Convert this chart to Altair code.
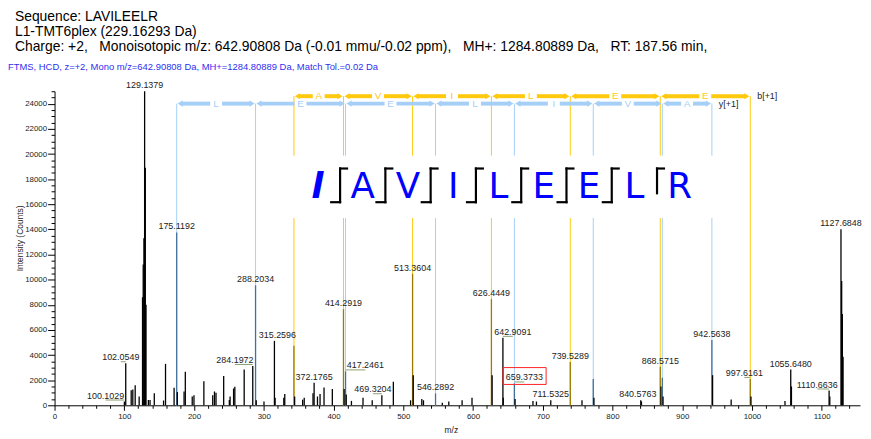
import altair as alt
import pandas as pd

# ---------------- data ----------------
NB3 = "\u00a0\u00a0\u00a0"
HEADER_LINES = [
    "Sequence: LAVILEELR",
    "L1-TMT6plex (229.16293 Da)",
    "Charge: +2," + NB3 + "Monoisotopic m/z: 642.90808 Da (-0.01 mmu/-0.02 ppm)," + NB3
    + "MH+: 1284.80889 Da," + NB3 + "RT: 187.56 min,",
]
SCAN_INFO = "FTMS, HCD, z=+2, Mono m/z=642.90808 Da, MH+=1284.80889 Da, Match Tol.=0.02 Da"

PEAK_MZ = [
    100.1029, 102.0549, 109.9, 112.2, 115.6, 121.3, 126.13, 127.12, 128.13, 129.1379,
    130.14, 131.14, 134.5, 136.9, 143.0, 156.3, 159.1, 171.4, 175.1192, 176.12,
    185.7, 187.5, 197.4, 199.9, 214.1, 226.8, 229.3, 231.5, 242.5, 250.6,
    251.7, 256.7, 258.5, 271.9, 284.1972, 288.2034, 289.2, 300.3, 315.2596, 316.26,
    328.7, 330.1, 343.25, 344.26, 355.7, 358.0, 370.6, 372.1765, 377.0, 380.7,
    386.4, 398.3, 414.2919, 415.3, 417.2461, 418.25, 425.7, 442.3, 455.5, 469.3204,
    485.8, 510.5, 513.3604, 514.36, 526.6, 529.0, 546.2892, 556.0, 565.3, 584.4,
    598.6, 626.4449, 627.45, 642.9091, 643.41, 659.3733, 660.37, 686.0, 691.0, 711.5325,
    739.5289, 756.3, 772.46, 773.46, 840.5763, 841.6, 868.5715, 869.57, 871.52, 872.52,
    942.5638, 943.56, 970.2, 997.6161, 998.62, 1047.4, 1055.648, 1056.65, 1110.6636, 1111.66,
    1127.6848, 1128.68, 1129.68, 1130.68,
]
PEAK_INTENSITY = [
    300, 3350, 1200, 1250, 1600, 700, 8600, 11200, 13300, 25000,
    18900, 8000, 420, 420, 950, 380, 3300, 1400, 13760, 1050,
    1100, 2680, 700, 800, 1920, 800, 1100, 1000, 2340, 420,
    700, 1340, 1470, 2840, 3130, 9550, 400, 300, 5130, 600,
    600, 900, 4750, 700, 450, 600, 950, 1800, 700, 900,
    1420, 1300, 7650, 1300, 2700, 850, 350, 600, 400, 800,
    1870, 400, 10470, 2400, 500, 400, 950, 200, 300, 400,
    600, 8450, 2400, 5370, 600, 1740, 500, 350, 300, 400,
    3450, 400, 2100, 600, 400, 300, 3070, 1500, 2200, 700,
    5200, 2400, 470, 2100, 700, 350, 2840, 1500, 1180, 700,
    14020, 9900, 7260, 3870,
]
PEAK_LABELS = [
    "100.1029", "102.0549", "129.1379", "175.1192", "284.1972", "288.2034", "315.2596",
    "372.1765", "414.2919", "417.2461", "469.3204", "513.3604", "546.2892", "626.4449",
    "642.9091", "659.3733", "711.5325", "739.5289", "840.5763", "868.5715", "942.5638",
    "997.6161", "1055.6480", "1110.6636", "1127.6848",
]
HIGHLIGHTED_LABEL = "659.3733"

SEQUENCE = ["l", "A", "V", "I", "L", "E", "E", "L", "R"]
B_IONS = [343.2543, 414.2914, 513.3598, 626.4439, 739.5279, 868.5705, 997.6131]
B_STEPS = ["A", "V", "I", "L", "E", "E"]
Y_IONS = [175.1190, 288.2030, 417.2456, 546.2882, 659.3723, 772.4563, 871.5247, 942.5618]
Y_STEPS = ["L", "E", "E", "L", "I", "V", "A"]

X_MAX = 1155
Y_MAX = 25000

# ---------------- layout / style ----------------
W, H = 813, 317
PAD = {"left": 47, "top": 82, "right": 3, "bottom": 32}
FONT = "Liberation Sans"
GOLD = "#FFC90E"
SKY = "#A6CFF7"
SEQ_BLUE = "#0000FF"
MATCH_COLORS = {"none": "#000000", "b": "#9C7A00", "y": "#41709C"}
LABEL_SHIFT_PX = {
    "100.1029": -19, "102.0549": -5, "284.1972": -18, "315.2596": 3, "417.2461": 20,
    "469.3204": -9, "642.9091": 10, "659.3733": 10, "997.6161": -6, "1110.6636": -12,
    "840.5763": -3,
}
B_ROW_PY, Y_ROW_PY = 5, 12.5
GAP_TOP_PY, GAP_BOT_PY = 65, 128
SEQ_GAP_MZ = (330, 960)
SEQ_LEFT_PX, SEQ_STEP_PX = 242.5, 45.7
SEQ_BASE_PY = 108
BR_TOP_PY, BR_BOT_PY, BR_SHORT_PY = 78, 112, 103
BR_LEFT_HOOK, BR_RIGHT_HOOK = 9, 7

PX_PER_MZ = W / X_MAX
PX_PER_INT = H / Y_MAX


def mz_at(px):
    return px / PX_PER_MZ


def int_at(py):
    return (H - py) / PX_PER_INT


XS = alt.Scale(domain=[0, X_MAX], nice=False, zero=False)
YS = alt.Scale(domain=[0, Y_MAX], nice=False, zero=False)

X_AXIS = alt.Axis(
    title="m/z", values=list(range(0, X_MAX + 1, 20)), format="d",
    labelExpr="datum.value % 100 === 0 ? datum.label : ''",
    tickSize={"condition": {"test": "datum.value % 100 === 0", "value": 5}, "value": 3},
    labelFlush=False, labelOverlap=False, grid=False,
    domainColor="#000000", tickColor="#000000", domainWidth=1, tickWidth=1,
    labelFont=FONT, labelFontSize=8, labelColor="#222222", labelPadding=2,
    titleFont=FONT, titleFontSize=8.5, titleFontWeight="normal", titleColor="#222222",
    titleX=400, titleY=24, titleBaseline="middle",
)
Y_AXIS = alt.Axis(
    title="Intensity (Counts)", values=list(range(0, Y_MAX + 1, 500)), format="d",
    labelExpr="datum.value % 2000 === 0 ? datum.label : ''",
    tickSize={"condition": {"test": "datum.value % 2000 === 0", "value": 7}, "value": 3.5},
    labelFlush=False, labelOverlap=False, grid=False,
    domainColor="#000000", tickColor="#000000", domainWidth=1, tickWidth=1,
    labelFont=FONT, labelFontSize=8, labelColor="#222222", labelPadding=1,
    titleFont=FONT, titleFontSize=8.5, titleFontWeight="normal", titleColor="#222222",
    titleX=-35, titleY=148, titleAngle=270, titleAlign="center", titleBaseline="middle",
)


def X(field):
    return alt.X(field, type="quantitative", scale=XS, axis=X_AXIS)


def Y(field):
    return alt.Y(field, type="quantitative", scale=YS, axis=Y_AXIS)


layers = []

# ---- fragment-ion vertical lines ----
for ions, row_py, color in [(B_IONS, B_ROW_PY, GOLD), (Y_IONS, Y_ROW_PY, SKY)]:
    rows = []
    for mz in ions:
        if SEQ_GAP_MZ[0] <= mz <= SEQ_GAP_MZ[1]:
            rows.append({"mz": mz, "y0": int_at(row_py), "y1": int_at(GAP_TOP_PY)})
            rows.append({"mz": mz, "y0": int_at(GAP_BOT_PY), "y1": 0})
        else:
            rows.append({"mz": mz, "y0": int_at(row_py), "y1": 0})
    layers.append(
        alt.Chart(pd.DataFrame(rows)).mark_rule(color=color, strokeWidth=1)
        .encode(x=X("mz"), y=Y("y0"), y2="y1:Q")
    )

# ---- fragment arrows ----
for ions, steps, row_py, color, tag in [
    (B_IONS, B_STEPS, B_ROW_PY, GOLD, "b[+1]"),
    (Y_IONS, Y_STEPS, Y_ROW_PY, SKY, "y[+1]"),
]:
    df = pd.DataFrame({"a": ions[:-1], "b": ions[1:], "res": steps})
    df["mid"] = (df["a"] + df["b"]) / 2
    df["row"] = int_at(row_py)
    base = alt.Chart(df)
    layers.append(base.mark_rule(color=color, strokeWidth=4, xOffset=4, x2Offset=-6)
                  .encode(x=X("a"), x2="mid:Q", y=Y("row")))
    layers.append(base.mark_rule(color=color, strokeWidth=4, xOffset=6, x2Offset=-4)
                  .encode(x=X("mid"), x2="b:Q", y=Y("row")))
    layers.append(base.mark_point(shape="triangle-left", filled=True, size=38, opacity=1,
                                  color=color, xOffset=3.5)
                  .encode(x=X("a"), y=Y("row")))
    layers.append(base.mark_point(shape="triangle-right", filled=True, size=38, opacity=1,
                                  color=color, xOffset=-3.5)
                  .encode(x=X("b"), y=Y("row")))
    layers.append(base.mark_text(color=color, font=FONT, fontSize=10, baseline="middle")
                  .encode(x=X("mid"), y=Y("row"), text="res:N"))
    tag_df = pd.DataFrame({"mz": [ions[-1]], "row": [int_at(row_py)], "t": [tag]})
    layers.append(alt.Chart(tag_df).mark_text(color="#222222", font=FONT, fontSize=9,
                                              align="left", baseline="middle", dx=7)
                  .encode(x=X("mz"), y=Y("row"), text="t:N"))

# ---- peaks ----
peaks = pd.DataFrame({"mz": PEAK_MZ, "intensity": PEAK_INTENSITY})


def kind_of(mz):
    if any(abs(mz - b) < 0.02 for b in B_IONS):
        return "b"
    if any(abs(mz - y) < 0.02 for y in Y_IONS):
        return "y"
    return "none"


peaks["kind"] = [kind_of(m) for m in peaks["mz"]]

layers.append(
    alt.Chart(peaks).mark_rule(strokeWidth=1.3)
    .encode(
        x=X("mz"),
        y=Y("intensity"),
        y2=alt.datum(0),
        color=alt.Color("kind:N", legend=None,
                        scale=alt.Scale(domain=list(MATCH_COLORS.keys()),
                                        range=list(MATCH_COLORS.values()))),
    )
)

# ---- peak labels ----
lab = pd.DataFrame({"label": PEAK_LABELS})
lab["mz"] = [float(t) for t in PEAK_LABELS]
lab["intensity"] = [
    PEAK_INTENSITY[min(range(len(PEAK_MZ)), key=lambda i: abs(PEAK_MZ[i] - m))]
    for m in lab["mz"]
]
lab["lx"] = lab["mz"] + [mz_at(LABEL_SHIFT_PX.get(t, 0)) for t in PEAK_LABELS]
layers.append(
    alt.Chart(lab).mark_text(font=FONT, fontSize=9, color="#222222", dy=-3,
                             baseline="alphabetic")
    .encode(x=X("lx"), y=Y("intensity"), text="label:N")
)

# leader lines for shifted labels
lead = lab[lab["label"].map(lambda t: abs(LABEL_SHIFT_PX.get(t, 0)) >= 5)].copy()
lead["ly"] = lead["intensity"] + 1.5 / PX_PER_INT
layers.append(
    alt.Chart(lead).mark_rule(color="#8AA070", strokeWidth=1)
    .encode(x=X("mz"), x2="lx:Q", y=Y("ly"))
)

# highlight box
hl = lab[lab["label"] == HIGHLIGHTED_LABEL].copy()
hl["x0"] = hl["lx"] - mz_at(21.5)
hl["x1"] = hl["lx"] + mz_at(22)
hl["y0"] = hl["intensity"] + 16 / PX_PER_INT
hl["y1"] = hl["intensity"] - 1 / PX_PER_INT
layers.append(
    alt.Chart(hl).mark_rect(filled=False, stroke="#FF2020", strokeWidth=1)
    .encode(x=X("x0"), x2="x1:Q", y=Y("y0"), y2="y1:Q")
)

# ---- sequence widget ----
seq = pd.DataFrame({"res": SEQUENCE, "idx": list(range(len(SEQUENCE)))})
seq["x"] = [mz_at(SEQ_LEFT_PX + SEQ_STEP_PX * (i + 0.5)) for i in seq["idx"]]
seq["y"] = int_at(SEQ_BASE_PY)
layers.append(
    alt.Chart(seq).transform_filter("datum.idx > 0")
    .mark_text(font="DejaVu Sans", fontSize=36, color=SEQ_BLUE, baseline="alphabetic")
    .encode(x=X("x"), y=Y("y"), text="res:N")
)
layers.append(
    alt.Chart(seq).transform_filter("datum.idx == 0")
    .mark_text(font="DejaVu Sans", fontSize=36, color=SEQ_BLUE, baseline="alphabetic",
               fontStyle="italic", fontWeight="bold")
    .encode(x=X("x"), y=Y("y"), text="res:N")
)

segs = []
n = len(SEQUENCE)
for k in range(n - 1):
    vx = SEQ_LEFT_PX + SEQ_STEP_PX * (k + 1)
    b_hit = k < len(B_IONS)
    y_hit = (n - 1 - k) <= len(Y_IONS)
    bottom = BR_BOT_PY if b_hit else BR_SHORT_PY
    segs.append((vx, BR_TOP_PY, vx, bottom))
    if b_hit:
        segs.append((vx - BR_LEFT_HOOK, BR_BOT_PY, vx, BR_BOT_PY))
    if y_hit:
        segs.append((vx, BR_TOP_PY, vx + BR_RIGHT_HOOK, BR_TOP_PY))
br = pd.DataFrame(segs, columns=["px0", "py0", "px1", "py1"])
br["x0"] = br["px0"].map(mz_at)
br["x1"] = br["px1"].map(mz_at)
br["y0"] = br["py0"].map(int_at)
br["y1"] = br["py1"].map(int_at)
layers.append(
    alt.Chart(br).mark_rule(color="#000000", strokeWidth=2.2, strokeCap="square")
    .encode(x=X("x0"), x2="x1:Q", y=Y("y0"), y2="y1:Q")
)

# ---- header text ----
for line, py in zip(HEADER_LINES, [-71, -56, -41]):
    layers.append(
        alt.Chart(pd.DataFrame({"t": [line]}))
        .mark_text(font=FONT, fontSize=14, color="#000000", align="left", baseline="alphabetic")
        .encode(x=alt.value(-40), y=alt.value(py), text="t:N")
    )
layers.append(
    alt.Chart(pd.DataFrame({"t": [SCAN_INFO]}))
    .mark_text(font=FONT, fontSize=9.5, color="#2F2FF0", align="left", baseline="alphabetic")
    .encode(x=alt.value(-47), y=alt.value(-21), text="t:N")
)

chart = (
    alt.layer(*layers)
    .properties(width=W, height=H, padding=PAD, autosize=alt.AutoSizeParams(type="none"),
                background="white")
    .configure_view(stroke=None)
)

chart.save("out.html", embed_options={"renderer": "svg", "actions": False})
